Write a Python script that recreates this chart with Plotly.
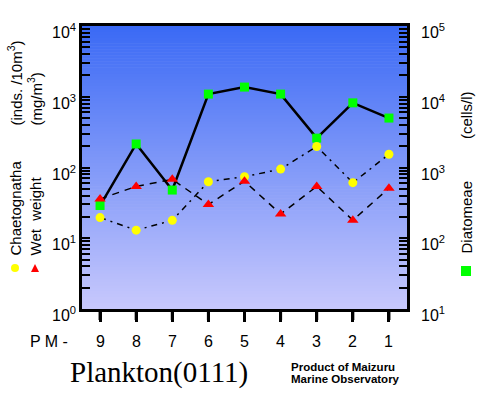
import math
import plotly.graph_objects as go

# ---------------- data ----------------
categories = ["9", "8", "7", "6", "5", "4", "3", "2", "1"]
diatomeae = [290, 2150, 480, 10900, 13700, 10900, 2600, 8200, 5000]      # cells/l (right axis)
chaetognatha = [19.6, 13, 17.9, 63, 74, 95, 198, 61, 154]               # inds./10m3 (left axis)
wet_weight = [36, 54, 68, 30, 64, 22, 54, 18, 51]                       # mg/m3 (left axis)

left_tickvals = [1, 10, 100, 1000, 10000]
left_ticktext = ["10<sup>0</sup>", "10<sup>1</sup>", "10<sup>2</sup>", "10<sup>3</sup>", "10<sup>4</sup>"]
right_tickvals = [10, 100, 1000, 10000, 100000]
right_ticktext = ["10<sup>1</sup>", "10<sup>2</sup>", "10<sup>3</sup>", "10<sup>4</sup>", "10<sup>5</sup>"]

LEFT_RANGE = [0, 4]    # log10 range of left axis
RIGHT_RANGE = [1, 5]   # log10 range of right axis

# ---------------- geometry ----------------
W, H = 481, 397
PL, PR, PT, PB = 82, 407, 26, 309
PW, PH = PR - PL, PB - PT


def px(x):
    return (x - PL) / PW


def py(y):
    return (PB - y) / PH


FONT = "Liberation Sans, Arial, sans-serif"

fig = go.Figure()

fig.add_trace(go.Scatter(
    x=categories, y=diatomeae, yaxis="y", mode="lines+markers", name="Diatomeae",
    line=dict(color="black", width=2.5),
    marker=dict(symbol="square", size=9, color="#00ff00", line=dict(width=0)),
))
fig.add_trace(go.Scatter(
    x=categories, y=chaetognatha, yaxis="y2", mode="lines+markers", name="Chaetognatha",
    line=dict(color="black", width=1.5, dash="6px,5px,2px,5px"),
    marker=dict(symbol="circle", size=9, color="#ffff00", line=dict(width=0)),
))
fig.add_trace(go.Scatter(
    x=categories, y=wet_weight, yaxis="y2", mode="lines+markers", name="Wet weight",
    line=dict(color="black", width=1.5, dash="7px,6px"),
    marker=dict(symbol="triangle-up", size=10, color="#ff0000", line=dict(width=0)),
))

fig.update_layout(
    width=W, height=H,
    margin=dict(l=PL, r=W - PR, t=PT, b=H - PB, pad=0),
    paper_bgcolor="white",
    plot_bgcolor="rgb(200,200,252)",
    showlegend=False,
    xaxis=dict(
        type="category", range=[-0.5, len(categories) - 0.5], showline=True,
        linecolor="black", linewidth=3, mirror=True,
        ticks="outside", ticklen=10, tickwidth=3, tickcolor="black",
        showgrid=False, zeroline=False, showticklabels=False,
    ),
    yaxis=dict(
        type="log", side="right", range=RIGHT_RANGE, showline=True, linecolor="black",
        linewidth=3, ticks="inside", ticklen=8, tickwidth=2, tickcolor="black",
        dtick="D1", showgrid=False, zeroline=False, showticklabels=False,
    ),
    yaxis2=dict(
        type="log", side="left", overlaying="y", range=LEFT_RANGE, showline=True,
        linecolor="black", linewidth=3, ticks="inside", ticklen=8, tickwidth=2,
        tickcolor="black", dtick="D1", showgrid=False, zeroline=False,
        showticklabels=False,
    ),
)

# gradient background
top = (58, 106, 245)
bot = (200, 200, 252)
N = 95
shapes = []
for i in range(N):
    t = (i + 0.5) / N
    c = tuple(round(bot[k] + (top[k] - bot[k]) * t) for k in range(3))
    shapes.append(dict(
        type="rect", xref="paper", yref="paper", x0=0, x1=1,
        y0=i / N, y1=min(1, (i + 1) / N + 0.002), layer="below",
        fillcolor="rgb(%d,%d,%d)" % c, line=dict(width=0),
    ))


def block(x0, x1, y0, y1, color="black"):
    """filled rectangle given in page pixels"""
    shapes.append(dict(type="rect", xref="paper", yref="paper",
                       x0=px(x0), x1=px(x1), y0=py(y1), y1=py(y0),
                       fillcolor=color, line=dict(width=0)))


# x-axis tick marks below the axis, one per category
n = len(categories)
for i in range(n):
    xpix = PL + (i + 0.5) / n * PW
    block(xpix - 1.5, xpix + 1.5, PB, PB + 11)

# legend glyphs
shapes.append(dict(type="circle", xref="paper", yref="paper",
                   x0=px(11), x1=px(19), y0=py(272), y1=py(264),
                   fillcolor="#ffff00", line=dict(width=0)))
shapes.append(dict(type="path", xref="paper", yref="paper",
                   path="M %f,%f L %f,%f L %f,%f Z" % (px(31), py(272), px(39), py(272), px(35), py(264)),
                   fillcolor="#ff0000", line=dict(width=0)))
block(461, 471, 266, 276, "#00ff00")
fig.update_layout(shapes=shapes)


def ann(text, x, y, size=15, angle=0, xanchor="center", yanchor="middle", family=FONT):
    fig.add_annotation(text=text, xref="paper", yref="paper", x=px(x), y=py(y),
                       showarrow=False, textangle=angle, xanchor=xanchor, yanchor=yanchor,
                       font=dict(family=family, size=size, color="black"))


# axis tick labels
for v, txt in zip(left_tickvals, left_ticktext):
    ypix = PB - (math.log10(v) - LEFT_RANGE[0]) / (LEFT_RANGE[1] - LEFT_RANGE[0]) * PH
    ann(txt, 78, ypix + 5, size=16, xanchor="right")
for v, txt in zip(right_tickvals, right_ticktext):
    ypix = PB - (math.log10(v) - RIGHT_RANGE[0]) / (RIGHT_RANGE[1] - RIGHT_RANGE[0]) * PH
    ann(txt, 419, ypix + 5, size=16, xanchor="left")
for i, cat in enumerate(categories):
    ann(cat, PL + (i + 0.5) / n * PW, 341, size=16)

ann("(inds. /10m<sup>3</sup>)", 15, 128, angle=-90, yanchor="bottom")
ann("(mg/m<sup>3</sup>)", 35, 128, angle=-90, yanchor="bottom")
ann("Chaetognatha", 15, 258, angle=-90, yanchor="bottom")
ann("Wet  weight", 35, 258, angle=-90, yanchor="bottom")
ann("(cells/l)", 466, 115, angle=-90)
ann("Diatomeae", 466, 256, angle=-90, yanchor="bottom")
ann("P M -", 49, 341, size=16)
ann("Plankton(0111)", 68, 372, size=29, xanchor="left", family="Liberation Serif, Times New Roman, serif")
ann("<b>Product of Maizuru</b>", 289, 367, size=11.5, xanchor="left")
ann("<b>Marine Observatory</b>", 289, 379, size=11.5, xanchor="left")

fig.write_html("out.html", config={"displayModeBar": False},
               post_script="document.body.style.margin='0';document.body.style.padding='0';")
